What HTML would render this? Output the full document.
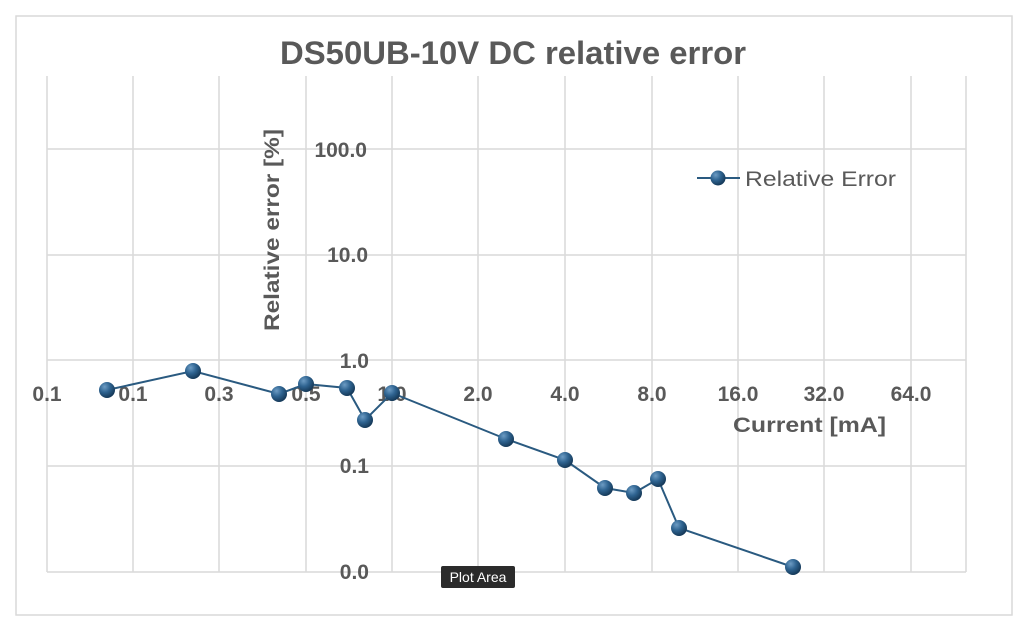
<!DOCTYPE html>
<html><head><meta charset="utf-8"><style>
html,body{margin:0;padding:0;background:#fff;}
svg{display:block;font-family:"Liberation Sans",sans-serif;}
</style></head><body>
<svg width="1024" height="638" viewBox="0 0 1024 638">
<defs>
<radialGradient id="g" cx="35%" cy="30%" r="70%">
<stop offset="0" stop-color="#6d9cc4"/><stop offset="0.5" stop-color="#2f6491"/><stop offset="1" stop-color="#163a5a"/>
</radialGradient>
</defs>
<rect x="16" y="16" width="996" height="599" fill="#fff" stroke="#d9d9d9" stroke-width="1.5"/>
<g stroke="#d9d9d9" stroke-width="1.5">
<line x1="47" y1="76" x2="47" y2="572"/><line x1="133" y1="76" x2="133" y2="572"/>
<line x1="219" y1="76" x2="219" y2="572"/><line x1="306" y1="76" x2="306" y2="572"/>
<line x1="392" y1="76" x2="392" y2="572"/><line x1="478" y1="76" x2="478" y2="572"/>
<line x1="565" y1="76" x2="565" y2="572"/><line x1="652" y1="76" x2="652" y2="572"/>
<line x1="738" y1="76" x2="738" y2="572"/><line x1="824" y1="76" x2="824" y2="572"/>
<line x1="911" y1="76" x2="911" y2="572"/><line x1="966" y1="76" x2="966" y2="572"/>
<line x1="47" y1="149" x2="966" y2="149"/><line x1="47" y1="255" x2="966" y2="255"/>
<line x1="47" y1="360" x2="966" y2="360"/><line x1="47" y1="466" x2="966" y2="466"/>
<line x1="47" y1="572" x2="966" y2="572"/>
</g>
<text x="280" y="64" font-size="32" font-weight="bold" fill="#595959" textLength="466" lengthAdjust="spacingAndGlyphs">DS50UB-10V DC relative error</text>
<g font-size="21" font-weight="bold" fill="#595959" text-anchor="end">
<text x="367" y="157">100.0</text><text x="368" y="262">10.0</text>
<text x="369" y="368">1.0</text><text x="369" y="473">0.1</text><text x="369" y="579">0.0</text>
</g>
<g font-size="21" font-weight="bold" fill="#595959" text-anchor="middle">
<text x="47" y="401">0.1</text><text x="133" y="401">0.1</text><text x="219" y="401">0.3</text>
<text x="306" y="401">0.5</text><text x="392" y="401">1.0</text><text x="478" y="401">2.0</text>
<text x="565" y="401">4.0</text><text x="652" y="401">8.0</text><text x="738" y="401">16.0</text>
<text x="824" y="401">32.0</text><text x="911" y="401">64.0</text>
</g>
<text x="733" y="432" font-size="21" font-weight="bold" fill="#595959" textLength="153" lengthAdjust="spacingAndGlyphs">Current [mA]</text>
<text transform="translate(279,331) rotate(-90)" font-size="21" font-weight="bold" fill="#595959" textLength="202" lengthAdjust="spacingAndGlyphs">Relative error [%]</text>
<polyline fill="none" stroke="#2a5a80" stroke-width="2" points="107,390 193,371 279,394 306,384 347,388 365,420 392,393 506,439 565,460 605,488 634,493 658,479 679,528 793,567"/>
<g fill="url(#g)">
<circle cx="107" cy="390" r="8"/><circle cx="193" cy="371" r="8"/><circle cx="279" cy="394" r="8"/>
<circle cx="306" cy="384" r="8"/><circle cx="347" cy="388" r="8"/><circle cx="365" cy="420" r="8"/>
<circle cx="392" cy="393" r="8"/><circle cx="506" cy="439" r="8"/><circle cx="565" cy="460" r="8"/>
<circle cx="605" cy="488" r="8"/><circle cx="634" cy="493" r="8"/><circle cx="658" cy="479" r="8"/>
<circle cx="679" cy="528" r="8"/><circle cx="793" cy="567" r="8"/>
</g>
<line x1="697" y1="178" x2="740" y2="178" stroke="#2a5a80" stroke-width="2"/>
<circle cx="718" cy="178" r="7.5" fill="url(#g)"/>
<text x="745" y="186" font-size="21" fill="#595959" textLength="151" lengthAdjust="spacingAndGlyphs">Relative Error</text>
<rect x="441" y="566" width="74" height="22" rx="2" fill="#2b2b2b"/>
<text x="478" y="582" text-anchor="middle" font-size="14" fill="#fff">Plot Area</text>
</svg>
</body></html>
